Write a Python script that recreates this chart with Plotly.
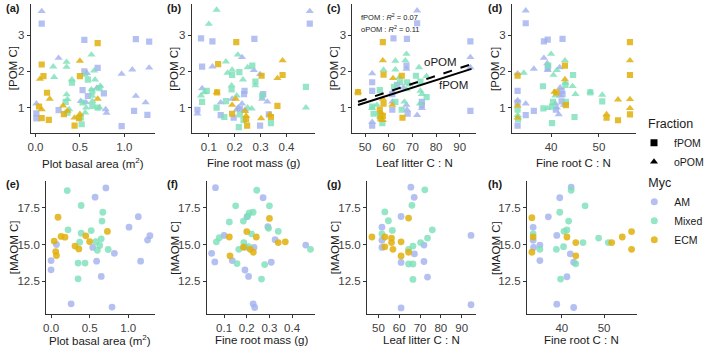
import plotly.graph_objects as go

W, H = 709, 349

# ---------------- data ----------------
myc_levels = ["AM", "Mixed", "ECM"]
myc_colors = {"AM": "rgba(160,176,238,0.80)", "Mixed": "rgba(122,224,184,0.80)", "ECM": "rgba(224,176,12,0.85)"}
frac_levels = ["fPOM", "oPOM"]
frac_symbols = {"fPOM": "square", "oPOM": "triangle-up"}

# Panel (a): POM C vs plot basal area
a_AM_f = [(0.07,3.32),(0.55,2.87),(1.13,2.89),(1.28,2.82),(0.70,2.10),(0.55,2.00),(1.26,0.80),(1.11,0.91),
          (0.97,0.49),(0.01,0.84),(0.01,0.70),(0.26,0.93),(0.53,1.48),(0.59,1.32),(0.77,1.39)]
a_AM_o = [(0.07,3.66),(0.26,2.37),(1.09,2.05),(1.28,2.10),(0.97,1.93),(1.13,1.32),(1.24,1.14),(0.01,1.11),
          (0.69,1.54),(0.79,0.95),(0.80,0.85),(0.51,1.18),(0.57,1.14),(0.58,1.95)]
a_Mx_f = [(0.41,1.69),(0.59,1.77),(0.72,1.54),(0.64,1.45),(0.53,1.14),(0.64,1.05),(0.52,0.54),(0.36,0.86),
          (0.51,0.73),(0.34,1.16),(0.70,1.00)]
a_Mx_o = [(0.20,2.13),(0.35,2.26),(0.35,2.12),(0.63,2.46),(0.66,2.02),(0.56,1.90),(0.67,1.77),(0.73,1.60),
          (0.41,1.77),(0.35,1.36),(0.36,1.23),(0.63,1.50),(0.64,1.18),(0.72,1.00),(0.57,1.00),(0.38,0.95),
          (0.64,1.32),(0.56,0.86),(0.21,1.84)]
a_EC_f = [(0.70,2.78),(0.07,2.19),(0.09,1.87),(0.50,1.87),(0.13,1.41),(0.04,1.03),(0.32,0.82),(0.07,0.71),
          (0.15,0.66),(0.44,0.50),(0.49,0.71)]
a_EC_o = [(0.50,2.29),(0.05,1.79),(0.16,1.24),(0.70,1.24),(0.31,1.05),(0.07,0.95),(0.36,0.91),(0.44,0.72),
          (0.50,0.82)]

# Panel (b): POM C vs fine root mass
b_AM_f = [(0.49,3.32),(0.07,2.91),(0.114,2.83),(0.276,2.90),(0.074,2.13),(0.056,0.94),(0.146,0.79),(0.196,0.72),
          (0.238,1.46),(0.236,1.37),(0.22,0.97),(0.31,1.37),(0.332,0.81),(0.298,0.50)]
b_AM_o = [(0.49,3.66),(0.114,2.13),(0.228,2.39),(0.274,2.03),(0.298,1.92),(0.074,1.53),(0.056,0.83),(0.146,1.14),
          (0.19,1.24),(0.214,1.00),(0.228,1.11),(0.208,0.94),(0.306,1.24),(0.326,1.16),(0.24,0.94)]
b_Mx_f = [(0.268,2.16),(0.19,1.90),(0.218,1.98),(0.28,1.72),(0.092,1.46),(0.074,1.16),(0.166,1.18),(0.188,1.50),
          (0.13,1.00),(0.16,0.74),(0.234,0.65),(0.216,0.46),(0.306,1.33),(0.34,0.57),(0.22,0.81),(0.475,1.57)]
b_Mx_o = [(0.13,3.70),(0.10,3.31),(0.212,2.46),(0.166,2.27),(0.25,2.11),(0.19,2.04),(0.172,1.96),(0.232,1.77),
          (0.28,1.61),(0.082,1.42),(0.07,1.33),(0.188,1.61),(0.208,1.33),(0.266,0.97),(0.25,1.00),(0.475,1.00)]
b_EC_f = [(0.206,2.81),(0.136,2.20),(0.385,1.90),(0.365,1.05),(0.132,1.42),(0.304,1.88),(0.19,0.83),(0.244,0.68),
          (0.248,0.50),(0.34,0.74)]
b_EC_o = [(0.385,2.30),(0.365,1.81),(0.13,1.42),(0.19,1.07),(0.204,1.24),(0.24,0.90),(0.244,0.77),(0.302,0.70),
          (0.336,0.81)]

# Panel (c): POM C vs leaf litter C:N
c_AM_f = [(72,3.33),(62,2.91),(67.7,2.90),(94.5,2.83),(94.5,0.91),(67.5,2.16),(53,1.70),(53,1.46),(61.5,1.37),
          (61.5,0.94),(63.5,1.63),(68,0.83),(74,1.16),(74,1.07),(53,0.50)]
c_AM_o = [(72,3.68),(94.5,2.39),(94.5,2.11),(53,1.94),(67.5,2.07),(61.5,1.42),(61.5,1.16),(66.2,1.55),(67.5,1.07),
          (67.7,0.94),(72,0.79),(74,0.98),(53,0.60)]
c_Mx_f = [(71.5,1.88),(73.4,1.72),(64.8,1.70),(56.2,1.48),(62.2,1.57),(67.7,1.70),(76,1.29),(62.8,1.16),(53,1.03),
          (53.6,0.83),(65.5,0.94),(56.2,0.77),(57.3,0.57)]
c_Mx_o = [(67.5,2.48),(67,2.30),(62.8,2.29),(72.8,2.11),(57.8,2.04),(62.8,2.05),(76,1.87),(64.4,1.83),(67.5,1.50),
          (68.8,1.63),(73.4,1.46),(74,1.37),(73.2,1.11),(53,0.98),(56,0.85),(66.6,1.16),(55,1.07)]
c_EC_f = [(57.5,2.81),(57.8,1.91),(65.5,1.88),(47,1.43),(57.8,1.11),(56.2,0.94),(57.5,0.77),(56.5,0.70),(65.8,0.72)]
c_EC_o = [(57.5,2.30),(61.8,1.81),(47,1.43),(57.5,1.24),(61.5,1.07),(56.9,0.85),(57.5,0.65)]

# Panel (d): POM C vs fine root C:N
d_AM_f = [(34.7,3.33),(38.5,2.83),(39.3,2.88),(42.4,2.90),(39.3,2.10),(33,1.46),(33,1.14),(33,0.50),(34.7,0.79),
          (36.4,0.91),(42.2,1.46),(42.4,1.37),(41,0.94),(42.2,1.17)]
d_AM_o = [(34.7,3.68),(38.5,2.37),(39.2,2.22),(36.4,2.07),(41.8,2.11),(39.3,2.03),(33,1.94),(33,1.20),(34.7,1.11),
          (41.9,1.55),(41.9,1.33),(40.9,1.11),(41.2,1.00),(41.6,0.81),(42.7,1.07)]
d_Mx_f = [(39.4,2.16),(43,1.63),(44.6,1.90),(48.2,1.42),(50.7,1.17),(38.3,1.59),(38.4,0.98),(40.2,1.03),(40.4,1.16),
          (40.2,0.57),(44.9,0.74),(33,0.94),(43.1,1.16),(33.1,0.68)]
d_Mx_o = [(40,2.48),(34.3,1.96),(40.5,1.90),(41.2,2.03),(42.9,2.30),(43,1.68),(44.5,1.59),(45.1,1.37),(48.2,1.43),
          (50.7,1.35),(39.3,0.98),(40.9,1.33),(33,0.79)]
d_EC_f = [(33,1.88),(41.1,1.42),(42.9,2.16),(43.1,1.07),(51.6,0.72),(54,0.65),(56.5,2.81),(56.5,1.90),(56.5,0.81)]
d_EC_o = [(33,1.05),(33,0.72),(40.7,1.43),(42.9,1.78),(51.6,0.81),(54,1.22),(56.5,2.30),(56.5,1.23),(56.5,0.98)]

# Panel (e): MAOM C vs plot basal area
e_AM = [(0.71,18.86),(0.57,18.23),(1.13,16.90),(1.01,16.18),(1.28,15.60),(1.25,15.30),(0.07,15.00),(0.54,14.80),
        (0.82,14.40),(0.00,13.90),(0.00,13.27),(0.59,13.86),(0.65,12.82),(1.16,13.86),(0.26,10.95),(0.79,10.73)]
e_Mx = [(0.21,18.68),(0.39,17.66),(0.67,17.20),(0.66,16.60),(0.22,16.00),(0.52,15.95),(0.39,15.77),(0.65,15.39),
        (0.37,15.16),(0.58,15.20),(0.63,14.93),(0.60,14.60),(0.74,14.66),(0.35,13.73),(0.44,13.73),(0.35,12.66)]
e_EC = [(0.09,16.86),(0.13,15.55),(0.18,15.50),(0.73,15.89),(0.04,15.23),(0.45,15.59),(0.50,15.20),(0.31,14.89),
        (0.36,14.70),(0.06,14.52),(0.07,14.25)]

# Panel (f): MAOM C vs fine root mass
f_AM = [(0.062,18.88),(0.272,18.19),(0.201,16.89),(0.293,16.21),(0.10,15.62),(0.045,14.40),(0.059,13.81),
        (0.136,13.90),(0.192,14.82),(0.232,14.80),(0.325,15.33),(0.308,13.79),(0.192,13.26),(0.208,12.82),
        (0.228,10.95),(0.235,10.70),(0.46,14.96)]
f_Mx = [(0.244,18.70),(0.151,17.64),(0.30,17.64),(0.228,17.20),(0.211,17.16),(0.204,16.94),(0.123,16.54),
        (0.185,16.60),(0.296,16.10),(0.339,15.90),(0.079,15.46),(0.066,15.18),(0.221,15.73),(0.187,15.13),
        (0.208,14.85),(0.165,14.67),(0.157,13.70),(0.279,13.63),(0.265,12.64),(0.481,14.67)]
f_EC = [(0.30,16.78),(0.20,15.88),(0.242,15.51),(0.123,15.51),(0.185,14.82),(0.215,14.67),(0.229,14.47),
        (0.126,14.23),(0.339,15.13),(0.37,15.18)]

# Panel (g): MAOM C vs leaf litter C:N
g_AM = [(65.6,18.91),(67.2,18.22),(60.9,16.91),(51.7,16.18),(51.7,15.29),(51.7,14.80),(71.9,14.96),(67.3,14.36),
        (60.9,13.78),(71.9,13.84),(73.6,12.78),(60.9,10.67),(94.5,15.62),(94.5,10.89)]
g_Mx = [(72.3,18.73),(66.1,17.67),(53.1,17.22),(54.8,16.62),(75.9,16.00),(56.7,15.96),(51.7,15.73),(70.3,15.13),
        (73.6,15.44),(66.6,14.89),(64.5,14.67),(64.5,13.67),(66.6,13.67),(66.6,12.62)]
g_EC = [(46.9,15.51),(64.5,16.80),(53.1,15.51),(53.1,14.84),(56.3,15.13),(56.3,15.44),(57.0,14.67),(60.9,15.18),
        (60.9,14.22),(64.5,14.47)]

# Panel (h): MAOM C vs fine root C:N
h_AM = [(42.2,18.92),(39.5,18.19),(36.8,16.89),(33.2,16.17),(33.2,15.29),(33.3,14.80),(34.8,14.96),(38.8,15.62),
        (42.0,14.36),(34.8,13.90),(42.8,13.79),(41.2,12.80),(38.8,10.93),(42.8,10.70)]
h_Mx = [(42.2,18.70),(45.5,17.64),(39.5,17.20),(41.6,16.60),(41.2,15.99),(40.5,15.90),(33.2,15.73),(48.7,15.44),
        (51.0,15.13),(45.0,15.13),(40.4,14.85),(34.8,14.67),(38.7,14.67),(43.3,13.68),(39.7,12.64)]
h_EC = [(32.9,16.83),(33.2,15.51),(32.9,14.47),(41.2,15.51),(43.3,15.13),(43.3,14.23),(51.8,15.13),(54.3,15.51),
        (56.5,15.88),(56.5,14.67)]

# Regression lines in panel (c)
fit_x = [47, 95]
fit_fpom = [1.07, 2.07]
fit_opom = [1.16, 2.20]
r2_fpom = 0.07
r2_opom = 0.11

x_titles = ["Plot basal area (m<sup>2</sup>)", "Fine root mass (g)", "Leaf litter C : N", "Fine root C : N"]
x_ticks = [[0.0, 0.5, 1.0], [0.1, 0.2, 0.3, 0.4], [50, 60, 70, 80, 90], [40, 50]]
x_ticktext = [["0.0", "0.5", "1.0"], ["0.1", "0.2", "0.3", "0.4"], ["50", "60", "70", "80", "90"], ["40", "50"]]
top_yticks = [1, 2, 3]
bot_yticks = [12.5, 15.0, 17.5]
bot_yticktext = ["12.5", "15.0", "17.5"]
panel_labels = ["(a)", "(b)", "(c)", "(d)", "(e)", "(f)", "(g)", "(h)"]

top_panels = [
    {"AM": (a_AM_f, a_AM_o), "Mixed": (a_Mx_f, a_Mx_o), "ECM": (a_EC_f, a_EC_o)},
    {"AM": (b_AM_f, b_AM_o), "Mixed": (b_Mx_f, b_Mx_o), "ECM": (b_EC_f, b_EC_o)},
    {"AM": (c_AM_f, c_AM_o), "Mixed": (c_Mx_f, c_Mx_o), "ECM": (c_EC_f, c_EC_o)},
    {"AM": (d_AM_f, d_AM_o), "Mixed": (d_Mx_f, d_Mx_o), "ECM": (d_EC_f, d_EC_o)},
]
bot_panels = [
    {"AM": e_AM, "Mixed": e_Mx, "ECM": e_EC},
    {"AM": f_AM, "Mixed": f_Mx, "ECM": f_EC},
    {"AM": g_AM, "Mixed": g_Mx, "ECM": g_EC},
    {"AM": h_AM, "Mixed": h_Mx, "ECM": h_EC},
]

# ---------------- layout geometry (pixels) ----------------
FONT = "Liberation Sans, Arial, sans-serif"
top_x_px = [(28.5, 156), (194, 321), (359, 486), (523, 650)]
bot_x_px = [(44.3, 156), (209.3, 321), (374, 486), (538.3, 651)]
top_y_px = (4, 133)
bot_y_px = (181, 314)

def px_x(p):
    return p / W

def px_y(p):
    return 1 - p / H

def expand(vals, f=0.05):
    lo, hi = min(vals), max(vals)
    d = (hi - lo) * f
    return [lo - d, hi + d]

def axname(i):
    return "" if i == 1 else str(i)

fig = go.Figure()

top_all_y = []
for p in top_panels:
    for m in myc_levels:
        for grp in p[m]:
            top_all_y += [v[1] for v in grp]
bot_all_y = []
for p in bot_panels:
    for m in myc_levels:
        bot_all_y += [v[1] for v in p[m]]

for i, p in enumerate(top_panels):
    idx = i + 1
    for m in myc_levels:
        for k, fr in enumerate(frac_levels):
            pts = p[m][k]
            fig.add_trace(go.Scatter(
                x=[v[0] for v in pts], y=[v[1] for v in pts], mode="markers",
                marker=dict(symbol=frac_symbols[fr], color=myc_colors[m],
                            size=7.2 if fr == "oPOM" else 6.2, line=dict(width=0)),
                xaxis="x" + axname(idx), yaxis="y" + axname(idx), showlegend=False,
                hoverinfo="skip"))

for i, p in enumerate(bot_panels):
    idx = i + 5
    for m in myc_levels:
        pts = p[m]
        fig.add_trace(go.Scatter(
            x=[v[0] for v in pts], y=[v[1] for v in pts], mode="markers",
            marker=dict(symbol="circle", color=myc_colors[m], size=6.8, line=dict(width=0)),
            xaxis="x" + axname(idx), yaxis="y" + axname(idx), showlegend=False,
            hoverinfo="skip"))

# regression lines in (c)
fig.add_trace(go.Scatter(x=fit_x, y=fit_opom, mode="lines", line=dict(color="black", width=2, dash="dash"),
                         xaxis="x3", yaxis="y3", showlegend=False, hoverinfo="skip"))
fig.add_trace(go.Scatter(x=fit_x, y=fit_fpom, mode="lines", line=dict(color="black", width=2),
                         xaxis="x3", yaxis="y3", showlegend=False, hoverinfo="skip"))

# legend entries
for fr in frac_levels:
    fig.add_trace(go.Scatter(x=[None], y=[None], mode="markers", name=fr,
                             marker=dict(symbol=frac_symbols[fr], color="black", size=7),
                             legend="legend", showlegend=True))
for m in myc_levels:
    fig.add_trace(go.Scatter(x=[None], y=[None], mode="markers", name=m,
                             marker=dict(symbol="circle", color=myc_colors[m], size=7),
                             legend="legend2", showlegend=True))

axis_common = dict(showline=True, linecolor="#333333", linewidth=1, ticks="outside", ticklen=3,
                   tickcolor="#333333", tickwidth=1, showgrid=False, zeroline=False,
                   tickfont=dict(family=FONT, size=11.5, color="#404040"), fixedrange=True)

layout = dict(width=W, height=H, margin=dict(l=0, r=0, t=0, b=0), plot_bgcolor="white",
              paper_bgcolor="white", font=dict(family=FONT, color="#1a1a1a"))

annotations = []
for i in range(4):
    idx = i + 1
    xs = []
    for m in myc_levels:
        for grp in top_panels[i][m]:
            xs += [v[0] for v in grp]
    layout["xaxis" + axname(idx)] = dict(axis_common, domain=[px_x(top_x_px[i][0]), px_x(top_x_px[i][1])],
                                         range=expand(xs), anchor="y" + axname(idx), tickvals=x_ticks[i],
                                         ticktext=x_ticktext[i])
    layout["yaxis" + axname(idx)] = dict(axis_common, domain=[px_y(top_y_px[1]), px_y(top_y_px[0])],
                                         range=expand(top_all_y), anchor="x" + axname(idx),
                                         tickvals=top_yticks)
    idx2 = i + 5
    xs2 = []
    for m in myc_levels:
        xs2 += [v[0] for v in bot_panels[i][m]]
    layout["xaxis" + axname(idx2)] = dict(axis_common, domain=[px_x(bot_x_px[i][0]), px_x(bot_x_px[i][1])],
                                          range=expand(xs2), anchor="y" + axname(idx2), tickvals=x_ticks[i],
                                          ticktext=x_ticktext[i])
    layout["yaxis" + axname(idx2)] = dict(axis_common, domain=[px_y(bot_y_px[1]), px_y(bot_y_px[0])],
                                          range=expand(bot_all_y), anchor="x" + axname(idx2),
                                          tickvals=bot_yticks, ticktext=bot_yticktext)

    annotations.append(dict(text=x_titles[i], xref="paper", yref="paper",
                            x=px_x((top_x_px[i][0] + top_x_px[i][1]) / 2), y=px_y(163),
                            showarrow=False, xanchor="center", yanchor="middle",
                            font=dict(size=11.5, color="#1a1a1a")))
    annotations.append(dict(text=x_titles[i], xref="paper", yref="paper",
                            x=px_x((bot_x_px[i][0] + bot_x_px[i][1]) / 2), y=px_y(340),
                            showarrow=False, xanchor="center", yanchor="middle",
                            font=dict(size=11.5, color="#1a1a1a")))
    annotations.append(dict(text="[POM C]", xref="paper", yref="paper", x=px_x(11 + 165 * i),
                            y=px_y(sum(top_y_px) / 2), textangle=-90, showarrow=False,
                            xanchor="center", yanchor="middle", font=dict(size=11.5, color="#1a1a1a")))
    annotations.append(dict(text="[MAOM C]", xref="paper", yref="paper", x=px_x(11 + 165 * i),
                            y=px_y(sum(bot_y_px) / 2), textangle=-90, showarrow=False,
                            xanchor="center", yanchor="middle", font=dict(size=11.5, color="#1a1a1a")))
    annotations.append(dict(text="<b>" + panel_labels[i] + "</b>", xref="paper", yref="paper",
                            x=px_x(1 + 165 * i), y=px_y(8), showarrow=False, xanchor="left",
                            yanchor="middle", font=dict(size=11, color="#1a1a1a")))
    annotations.append(dict(text="<b>" + panel_labels[i + 4] + "</b>", xref="paper", yref="paper",
                            x=px_x(1 + 165 * i), y=px_y(184), showarrow=False, xanchor="left",
                            yanchor="middle", font=dict(size=11, color="#1a1a1a")))

annotations.append(dict(text="fPOM : <i>R</i><sup>2</sup> = %.2f" % r2_fpom, xref="paper", yref="paper",
                        x=px_x(366), y=px_y(17), showarrow=False, xanchor="left", yanchor="middle",
                        font=dict(size=7.5, color="#1a1a1a")))
annotations.append(dict(text="oPOM : <i>R</i><sup>2</sup> = %.2f" % r2_opom, xref="paper", yref="paper",
                        x=px_x(366), y=px_y(29), showarrow=False, xanchor="left", yanchor="middle",
                        font=dict(size=7.5, color="#1a1a1a")))
annotations.append(dict(text="oPOM", xref="x3", yref="y3", x=82, y=2.27, showarrow=False,
                        font=dict(size=11.5, color="#1a1a1a")))
annotations.append(dict(text="fPOM", xref="x3", yref="y3", x=87.5, y=1.63, showarrow=False,
                        font=dict(size=11.5, color="#1a1a1a")))

layout["annotations"] = annotations
layout["legend"] = dict(title=dict(text="Fraction", font=dict(size=12.5, color="#1a1a1a")),
                        x=px_x(661), y=px_y(112), xanchor="left", yanchor="top",
                        bgcolor="rgba(0,0,0,0)", font=dict(size=10.5, color="#1a1a1a"),
                        itemwidth=30, indentation=-12, tracegroupgap=0)
layout["legend2"] = dict(title=dict(text="Myc", font=dict(size=12.5, color="#1a1a1a")),
                         x=px_x(661), y=px_y(171), xanchor="left", yanchor="top",
                         bgcolor="rgba(0,0,0,0)", font=dict(size=10.5, color="#1a1a1a"),
                         itemwidth=30, indentation=-12, tracegroupgap=0)

fig.update_layout(**layout)
fig.write_html("out.html")
